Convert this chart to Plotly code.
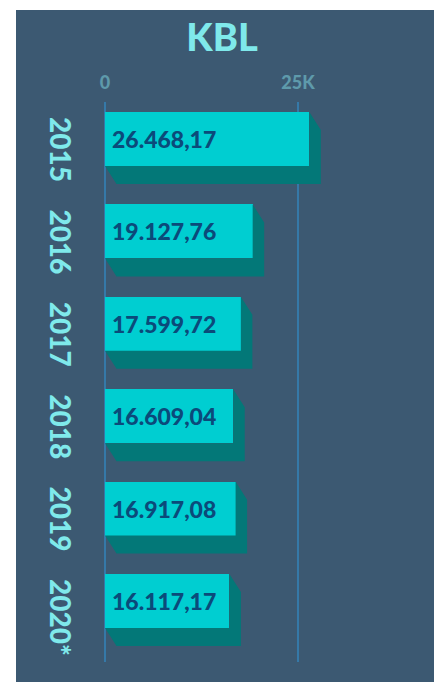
import plotly.graph_objects as go

# ---- data ----
years = ["2015", "2016", "2017", "2018", "2019", "2020*"]
values = [26468.17, 19127.76, 17599.72, 16609.04, 16917.08, 16117.17]
value_labels = ["26.468,17", "19.127,76", "17.599,72", "16.609,04", "16.917,08", "16.117,17"]
tick_values = [0, 25000]
tick_labels = ["0", "25K"]
title_text = "KBL"

# ---- style ----
W, H = 434, 682
PANEL = "#3C5972"
FACE = "#00CED1"
SHADOW = "#037878"
LABEL_C = "#0B4A7A"
YEAR_C = "#7FE9EB"
TICK_C = "#5E9AAB"
GRID_C = "#3579A8"
FONT = "Lato"

px_per_unit = 7.72 / 1000.0
zero_px = 105
x_range = [-zero_px / px_per_unit, (W - zero_px) / px_per_unit]

top_m, bot_m = 102, 20
y_range = [5.557, -0.503]
bar_w = 0.584
bar_off = -0.395
dx = 11.5 / px_per_unit
dy = 0.195

positions = list(range(len(years)))

fig = go.Figure()

# 3D side/bottom faces
for p, v in zip(positions, values):
    yt = p + bar_off
    yb = p + bar_off + bar_w
    xs = [0, v, v, v + dx, v + dx, dx, 0]
    ys = [yb, yb, yt, yt + dy, yb + dy, yb + dy, yb]
    fig.add_trace(go.Scatter(x=xs, y=ys, fill="toself", fillcolor=SHADOW,
                             mode="lines", line=dict(width=0, color=SHADOW),
                             hoverinfo="skip", showlegend=False))

fig.add_trace(go.Bar(
    x=values, y=positions, orientation="h",
    width=bar_w, offset=bar_off,
    marker=dict(color=FACE, line=dict(width=0)),
    showlegend=False, hoverinfo="skip",
))

for p, lab in zip(positions, value_labels):
    fig.add_annotation(x=0, xref="x", y=p + bar_off + bar_w / 2, yref="y",
                       xanchor="left", yanchor="middle", xshift=5,
                       text=lab, showarrow=False,
                       font=dict(family=FONT, size=23, color=LABEL_C, weight=900))

for p, yr in zip(positions, years):
    fig.add_annotation(x=61 / W, xref="paper", y=p, yref="y",
                       xanchor="center", yanchor="top", yshift=34,
                       text=yr, textangle=90, showarrow=False,
                       font=dict(family=FONT, size=28, color=YEAR_C, weight=900))

fig.add_shape(type="rect", xref="paper", yref="paper",
              x0=16 / W, x1=1.0, y0=-bot_m / (H - top_m - bot_m),
              y1=1 + (top_m - 10) / (H - top_m - bot_m),
              fillcolor=PANEL, line=dict(width=0), layer="below")

fig.update_layout(
    width=W, height=H,
    margin=dict(l=0, r=0, t=top_m, b=bot_m),
    paper_bgcolor="white", plot_bgcolor="rgba(0,0,0,0)",
    title=dict(text=title_text, x=222 / W, xanchor="center",
               y=1 - 38 / H, yanchor="middle", yref="container",
               font=dict(family=FONT, size=38, color=YEAR_C, weight=900)),
    xaxis=dict(range=x_range, side="top", tickvals=tick_values, ticktext=tick_labels,
               showgrid=True, gridcolor=GRID_C, gridwidth=2, zeroline=False,
               showline=False, ticks="", ticklabelstandoff=8,
               tickfont=dict(family=FONT, size=18, color=TICK_C, weight=900)),
    yaxis=dict(range=y_range, showticklabels=False, showgrid=False,
               zeroline=False, showline=False, ticks=""),
    bargap=0,
    hovermode=False,
)

fig.write_html("out.html", config={"displayModeBar": False, "staticPlot": True},
               post_script="document.body.style.margin='0';document.body.style.overflow='hidden';")
